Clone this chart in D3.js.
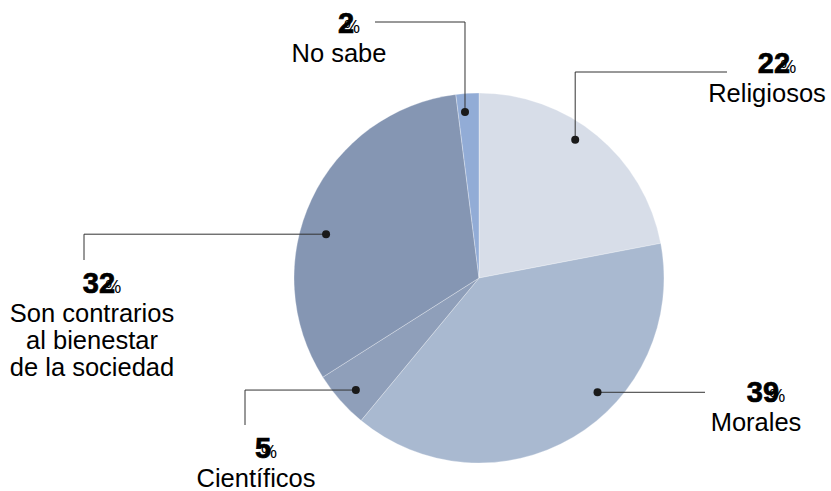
<!DOCTYPE html>
<html>
<head>
<meta charset="utf-8">
<script src="https://cdn.jsdelivr.net/npm/d3@7"></script>
<style>
  body { margin: 0; background: #fff; }
  svg { display: block; font-family: "Liberation Sans", Arial, sans-serif; }
</style>
</head>
<body>
<div id="chart"></div>
<script>
// Data
const categories = ['Religiosos', 'Morales', 'Científicos', 'Son contrarios al bienestar de la sociedad', 'No sabe']
const values = [22, 39, 5, 32, 2]
const colors = ['#d7dde8', '#a9b9d0', '#8f9fba', '#8596b3', '#92acd6']
const labelLines = [['Religiosos'], ['Morales'], ['Científicos'], ['Son contrarios', 'al bienestar', 'de la sociedad'], ['No sabe']]

// Label layout (where leader lines go and where text sits)
const labelLayout = [
    { frac: 0.44, rad: 0.91, mode: 'v', level: 72, end: 727, tx: 767, ty: 73 },
    { frac: 0.39, rad: 0.89, mode: 'h', level: 705, end: null, tx: 756, ty: 402 },
    { frac: 0.45, rad: 0.90, mode: 'h', level: 245, end: 425, tx: 256, ty: 458 },
    { frac: 0.42, rad: 0.86, mode: 'h', level: 84, end: 260, tx: 92, ty: 293 },
    { frac: 0.33, rad: 0.90, mode: 'v', level: 22, end: 375, tx: 339, ty: 33 }
]

const width = 831
const height = 491
const cx = 479
const cy = 278
const radius = 185

const svg = d3.select('#chart').append('svg')
    .attr('width', width)
    .attr('height', height)

const pie = d3.pie().sort(null).value(d => d)
const arcs = pie(values)
const arc = d3.arc().innerRadius(0).outerRadius(radius)

const g = svg.append('g').attr('transform', 'translate(' + cx + ',' + cy + ')')

g.selectAll('.slice')
    .data(arcs)
    .enter()
    .append('path')
    .attr('class', 'slice')
    .attr('d', arc)
    .attr('fill', (d, i) => colors[i])
    .attr('stroke', '#ffffff')
    .attr('stroke-opacity', 0.5)
    .attr('stroke-width', 0.6)

// Leader lines and dots
arcs.forEach((d, i) => {
    const L = labelLayout[i]
    const a = d.startAngle + L.frac * (d.endAngle - d.startAngle)
    const r = L.rad * radius
    const px = cx + r * Math.sin(a)
    const py = cy - r * Math.cos(a)
    let pts
    if (L.mode === 'v') {
        pts = [[px, py], [px, L.level], [L.end, L.level]]
    } else {
        pts = [[px, py], [L.level, py]]
        if (L.end !== null) pts.push([L.level, L.end])
    }
    svg.append('path')
        .attr('d', d3.line()(pts))
        .attr('fill', 'none')
        .attr('stroke', '#333333')
        .attr('stroke-width', 1)
    svg.append('circle')
        .attr('cx', px)
        .attr('cy', py)
        .attr('r', 4)
        .attr('fill', '#1a1a1a')

    // percentage label: bold number with a small overlapping %
    const num = svg.append('text')
        .attr('y', L.ty)
        .attr('font-size', 29)
        .attr('font-weight', 'bold')
        .attr('fill', '#000')
        .attr('stroke', '#000')
        .attr('stroke-width', 0.7)
        .text(values[i])
    const w = num.node().getComputedTextLength()
    const nx = L.tx + 7 - w / 2
    num.attr('x', nx)
    svg.append('text')
        .attr('x', nx + w - 10)
        .attr('y', L.ty)
        .attr('font-size', 18)
        .attr('fill', '#000')
        .text('%')

    labelLines[i].forEach((line, j) => {
        svg.append('text')
            .attr('x', L.tx)
            .attr('y', L.ty + 29 + j * 27)
            .attr('text-anchor', 'middle')
            .attr('font-size', 25.5)
            .attr('fill', '#000')
            .text(line)
    })
})
</script>
</body>
</html>
